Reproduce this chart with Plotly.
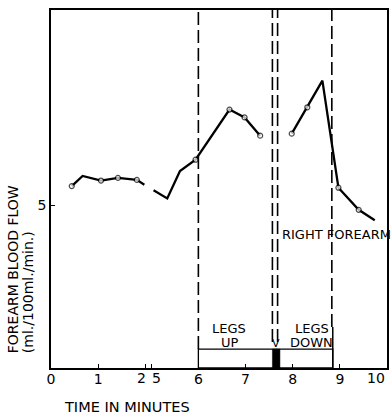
import plotly.graph_objects as go

# ---- data (time in minutes, forearm blood flow ml/100ml/min) ----
seg1_t = [0.44, 0.67, 1.06, 1.42, 1.82, 1.98]
seg1_y = [5.59, 5.90, 5.76, 5.84, 5.78, 5.63]
seg1_mark = [1, 0, 1, 1, 1, 0]

seg2_t = [5.05, 5.34, 5.61, 5.94, 6.66, 6.98, 7.31]
seg2_y = [5.46, 5.21, 6.05, 6.40, 7.94, 7.70, 7.14]
seg2_mark = [0, 0, 0, 1, 1, 1, 1]

seg3_t = [7.98, 8.31, 8.63, 8.97, 9.40, 9.74]
seg3_y = [7.20, 8.01, 8.83, 5.54, 4.86, 4.54]
seg3_mark = [1, 1, 0, 1, 1, 0]

x_tick_times = [0, 1, 2, 5, 6, 7, 8, 9, 10]
x_tick_labels = ["0", "1", "2", "5", "6", "7", "8", "9", "10"]
y_tick_vals = [5]
y_tick_labels = ["5"]

event_times = [6.0, 7.57, 7.68, 8.83]   # dashed markers
legs_up = (6.0, 8.85)                   # legs-up period box
occlusion = (7.57, 7.73)                # filled bar
box_top = 0.58

# ---- broken time axis: 0-2.5 min then 5-10 min ----
GAP = 2.875
def u(t):
    return t if t < 3 else t - GAP

FONT = "DejaVu Sans"
fig = go.Figure()

for tt, yy, mk in [(seg1_t, seg1_y, seg1_mark), (seg2_t, seg2_y, seg2_mark), (seg3_t, seg3_y, seg3_mark)]:
    fig.add_trace(go.Scatter(
        x=[u(t) for t in tt], y=yy, mode="lines+markers",
        line=dict(color="black", width=2.3),
        marker=dict(symbol="circle", size=[5 if m else 0 for m in mk], color="white",
                    line=dict(color="black", width=1.2)),
        showlegend=False, hoverinfo="skip"))

shapes = []
dash = "13px,5px"
# dashed event lines
shapes.append(dict(type="line", xref="x", yref="y", x0=u(event_times[0]), x1=u(event_times[0]), y0=box_top, y1=11,
                   line=dict(color="black", width=1.6, dash=dash)))
for t in event_times[1:3]:
    shapes.append(dict(type="line", xref="x", yref="y", x0=u(t), x1=u(t), y0=0.8, y1=11,
                       line=dict(color="black", width=1.6, dash=dash)))
shapes.append(dict(type="line", xref="x", yref="y", x0=u(event_times[3]), x1=u(event_times[3]), y0=1.26, y1=11,
                   line=dict(color="black", width=1.6, dash=dash)))
shapes.append(dict(type="line", xref="x", yref="y", x0=u(legs_up[1]), x1=u(legs_up[1]), y0=0, y1=1.26,
                   line=dict(color="black", width=1.5)))
# legs-up box
shapes.append(dict(type="rect", xref="x", yref="y", x0=u(legs_up[0]), x1=u(legs_up[1]), y0=0, y1=box_top,
                   line=dict(color="black", width=1.3), fillcolor="rgba(0,0,0,0)"))
# occlusion bar
shapes.append(dict(type="rect", xref="x", yref="y", x0=u(occlusion[0]), x1=u(occlusion[1]), y0=0, y1=box_top,
                   line=dict(color="black", width=0.5), fillcolor="black"))

tick_u = [u(t) for t in x_tick_times]
tick_text = [("" if lab in ("2", "5", "10") else lab) for lab in x_tick_labels]

ann = []
txt = dict(family=FONT, size=14, color="black")
# tick labels around the axis break (2 | 5) and at the right edge (10)
ann.append(dict(text="2", xref="x", yref="paper", x=1.915, y=-0.028, showarrow=False, font=txt,
                xanchor="center", yanchor="middle"))
ann.append(dict(text="5", xref="x", yref="paper", x=2.231, y=-0.028, showarrow=False, font=txt,
                xanchor="center", yanchor="middle"))
ann.append(dict(text="10", xref="paper", yref="paper", x=1.0, y=-0.028, showarrow=False, font=txt,
                xanchor="right", yanchor="middle"))
small = dict(family=FONT, size=13, color="black")
ann += [
    dict(text="LEGS", x=u(6.66), y=1.22, xref="x", yref="y", showarrow=False, font=small, yanchor="middle"),
    dict(text="UP", x=u(6.67), y=0.78, xref="x", yref="y", showarrow=False, font=small, yanchor="middle"),
    dict(text="LEGS", x=u(8.40), y=1.22, xref="x", yref="y", showarrow=False, font=small, yanchor="middle"),
    dict(text="DOWN", x=u(8.40), y=0.78, xref="x", yref="y", showarrow=False, font=small, yanchor="middle"),
    dict(text="V", x=u(7.64), y=0.74, xref="x", yref="y", showarrow=False, font=dict(family=FONT, size=11, color="black"), yanchor="middle"),
    dict(text="RIGHT FOREARM", x=u(7.74), y=4.09, xref="x", yref="y", showarrow=False, font=small,
         xanchor="left", yanchor="middle"),
    dict(text="TIME IN MINUTES", x=0.2249, y=-0.108, xref="paper", yref="paper", showarrow=False,
         font=dict(family=FONT, size=14.5, color="black"), xanchor="center", yanchor="middle"),
    dict(text="FOREARM BLOOD FLOW", x=-0.1124, y=0.2765, xref="paper", yref="paper", showarrow=False,
         textangle=-90, font=dict(family=FONT, size=14, color="black"), xanchor="center", yanchor="middle"),
    dict(text="(ml./100ml./min.)", x=-0.068, y=0.2123, xref="paper", yref="paper", showarrow=False,
         textangle=-90, font=dict(family=FONT, size=14, color="black"), xanchor="center", yanchor="middle"),
]

fig.update_layout(
    width=391, height=415,
    margin=dict(l=51, r=2, t=10, b=47),
    paper_bgcolor="white", plot_bgcolor="white",
    shapes=shapes, annotations=ann,
    xaxis=dict(range=[0, u(10)], tickvals=tick_u, ticktext=tick_text, ticks="inside", ticklen=4,
               tickwidth=1.2, tickcolor="black", showline=True, mirror=True, linecolor="black",
               linewidth=1.5, showgrid=False, zeroline=False, tickfont=txt, fixedrange=True,
               ticklabelstandoff=-3),
    yaxis=dict(range=[0, 11], tickvals=y_tick_vals, ticktext=y_tick_labels, ticks="inside", ticklen=4,
               tickwidth=1.2, tickcolor="black", showline=True, mirror=True, linecolor="black",
               linewidth=1.5, showgrid=False, zeroline=False, tickfont=txt, fixedrange=True),
)

fig.write_html("out.html")
